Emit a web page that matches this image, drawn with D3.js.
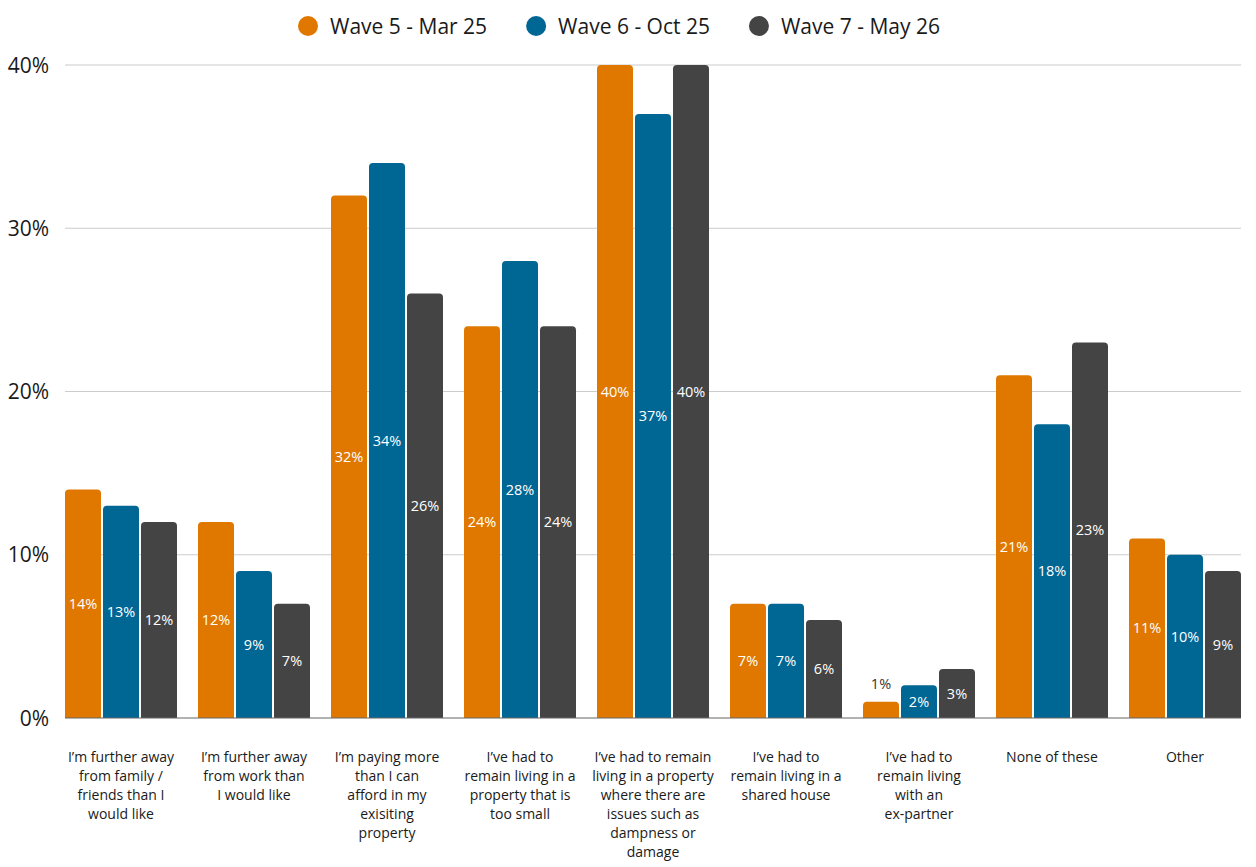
<!DOCTYPE html>
<html>
<head>
<meta charset="utf-8">
<script src="https://cdn.jsdelivr.net/npm/d3@7"></script>
<style>
  html, body { margin: 0; padding: 0; background: #fff; }
  svg { display: block; font-family: "Open Sans", "Noto Sans", sans-serif; }
</style>
</head>
<body>
<div id="chart"></div>
<script>
// categories (each label already split into its lines)
const categories = [
  ["I’m further away", "from family /", "friends than I", "would like"],
  ["I’m further away", "from work than", "I would like"],
  ["I’m paying more", "than I can", "afford in my", "exisiting", "property"],
  ["I’ve had to", "remain living in a", "property that is", "too small"],
  ["I’ve had to remain", "living in a property", "where there are", "issues such as", "dampness or", "damage"],
  ["I’ve had to", "remain living in a", "shared house"],
  ["I’ve had to", "remain living", "with an", "ex-partner"],
  ["None of these"],
  ["Other"]
];

const seriesNames = ["Wave 5 - Mar 25", "Wave 6 - Oct 25", "Wave 7 - May 26"];
const seriesColors = ["#e07800", "#006694", "#444444"];

const wave5 = [14, 12, 32, 24, 40, 7, 1, 21, 11];
const wave6 = [13, 9, 34, 28, 37, 7, 2, 18, 10];
const wave7 = [12, 7, 26, 24, 40, 6, 3, 23, 9];

const yTicks = [0, 10, 20, 30, 40];

const seriesValues = [wave5, wave6, wave7];

const W = 1256, H = 867;
const svg = d3.select("#chart").append("svg")
  .attr("width", W)
  .attr("height", H);

// scales
const x0 = d3.scaleBand()
  .domain(d3.range(categories.length))
  .range([54.5, 1251.5])
  .paddingInner(21 / 133)
  .paddingOuter(21 / 266);

const x1 = d3.scaleBand()
  .domain(d3.range(seriesNames.length))
  .range([0, x0.bandwidth()])
  .paddingInner(2 / 38);

const y = d3.scaleLinear()
  .domain([0, 40])
  .range([718, 65]);

const plotLeft = x0(0);
const plotRight = x0(categories.length - 1) + x0.bandwidth();

// grid lines
svg.append("g")
  .selectAll("line")
  .data(yTicks.filter(d => d > 0))
  .join("line")
    .attr("x1", plotLeft)
    .attr("x2", plotRight)
    .attr("y1", d => y(d))
    .attr("y2", d => y(d))
    .attr("stroke", "#cccccc")
    .attr("stroke-width", 1.2);

// y tick labels
svg.append("g")
  .selectAll("text")
  .data(yTicks)
  .join("text")
    .attr("x", 49)
    .attr("y", d => y(d))
    .attr("dy", "0.36em")
    .attr("text-anchor", "end")
    .attr("font-size", "21px")
    .attr("fill", "#1a1a1a")
    .text(d => d + "%");

// rounded-top bar path
function barPath(x, yTop, w, yBottom, r) {
  r = Math.min(r, (yBottom - yTop) / 2, w / 2);
  return `M${x},${yBottom}` +
    `V${yTop + r}` +
    `Q${x},${yTop} ${x + r},${yTop}` +
    `H${x + w - r}` +
    `Q${x + w},${yTop} ${x + w},${yTop + r}` +
    `V${yBottom}Z`;
}

// bars
const flat = [];
categories.forEach((c, i) => {
  seriesValues.forEach((vals, s) => {
    flat.push({ cat: i, s: s, v: vals[i] });
  });
});

const bars = svg.append("g");
bars.selectAll("path")
  .data(flat)
  .join("path")
    .attr("d", d => barPath(x0(d.cat) + x1(d.s), y(d.v), x1.bandwidth(), y(0), 4))
    .attr("fill", d => seriesColors[d.s]);

// value labels
bars.selectAll("text")
  .data(flat)
  .join("text")
    .attr("x", d => x0(d.cat) + x1(d.s) + x1.bandwidth() / 2)
    .attr("y", d => {
      const h = y(0) - y(d.v);
      return h < 20 ? y(d.v) - 18 : (y(d.v) + y(0)) / 2;
    })
    .attr("dy", "0.36em")
    .attr("text-anchor", "middle")
    .attr("font-size", "14.5px")
    .attr("fill", d => (y(0) - y(d.v) < 20 ? "#333333" : "#ffffff"))
    .text(d => d.v + "%");

// baseline
svg.append("line")
  .attr("x1", plotLeft)
  .attr("x2", plotRight)
  .attr("y1", y(0))
  .attr("y2", y(0))
  .attr("stroke", "#666666")
  .attr("stroke-width", 1.2);

// category labels
const catG = svg.append("g")
  .selectAll("text")
  .data(categories)
  .join("text")
    .attr("x", (d, i) => x0(i) + x0.bandwidth() / 2)
    .attr("y", 762)
    .attr("text-anchor", "middle")
    .attr("font-size", "14px")
    .attr("fill", "#1a1a1a");

catG.selectAll("tspan")
  .data(d => d)
  .join("tspan")
    .attr("x", function () { return d3.select(this.parentNode).attr("x"); })
    .attr("dy", (d, i) => (i === 0 ? 0 : 19))
    .text(d => d);

// legend
const legend = svg.append("g");
let cursor = 0;
const items = seriesNames.map((name, i) => {
  const g = legend.append("g");
  g.append("circle")
    .attr("cx", 10)
    .attr("cy", 0)
    .attr("r", 10)
    .attr("fill", seriesColors[i]);
  const t = g.append("text")
    .attr("x", 32)
    .attr("y", 0)
    .attr("dy", "0.36em")
    .attr("font-size", "21px")
    .attr("fill", "#1a1a1a")
    .text(name);
  const w = 32 + t.node().getComputedTextLength();
  g.attr("transform", `translate(${cursor},0)`);
  cursor += w + 39;
  return g;
});
const legendWidth = cursor - 39;
legend.attr("transform", `translate(${619 - legendWidth / 2},26)`);
</script>
</body>
</html>
